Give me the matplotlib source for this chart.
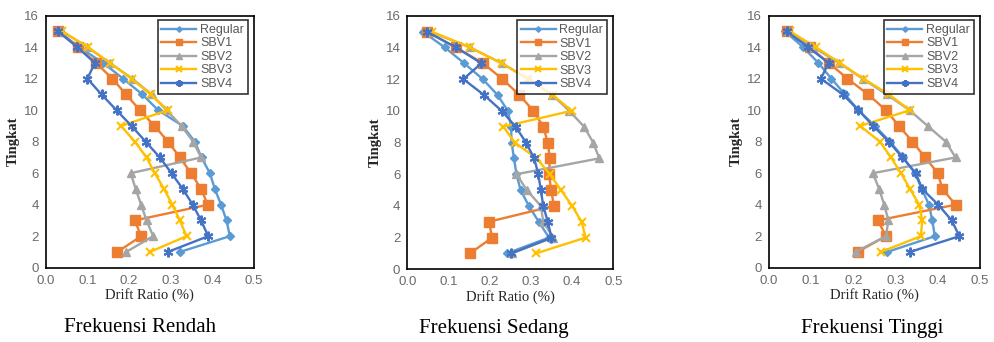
import matplotlib
matplotlib.use("Agg")
import matplotlib.pyplot as plt

floors = list(range(1, 16))
series_names = ["Regular", "SBV1", "SBV2", "SBV3", "SBV4"]

# Frekuensi Rendah
rendah_regular = [0.322, 0.442, 0.434, 0.421, 0.406, 0.394, 0.374, 0.358, 0.329, 0.270, 0.232, 0.186, 0.138, 0.080, 0.032]
rendah_sbv1 = [0.172, 0.229, 0.214, 0.389, 0.373, 0.349, 0.322, 0.294, 0.261, 0.226, 0.193, 0.160, 0.121, 0.077, 0.030]
rendah_sbv2 = [0.193, 0.258, 0.242, 0.229, 0.216, 0.204, 0.373, 0.354, 0.326, 0.290, 0.254, 0.208, 0.154, 0.100, 0.040]
rendah_sbv3 = [0.250, 0.338, 0.322, 0.304, 0.284, 0.262, 0.242, 0.214, 0.181, 0.293, 0.252, 0.206, 0.154, 0.102, 0.040]
rendah_sbv4 = [0.293, 0.390, 0.373, 0.353, 0.329, 0.302, 0.274, 0.240, 0.206, 0.170, 0.134, 0.100, 0.118, 0.076, 0.030]

# Frekuensi Sedang
sedang_regular = [0.241, 0.344, 0.319, 0.295, 0.275, 0.265, 0.259, 0.253, 0.252, 0.244, 0.219, 0.183, 0.138, 0.091, 0.037]
sedang_sbv1 = [0.152, 0.206, 0.198, 0.356, 0.349, 0.344, 0.346, 0.341, 0.330, 0.306, 0.272, 0.231, 0.184, 0.118, 0.047]
sedang_sbv2 = [0.253, 0.354, 0.330, 0.324, 0.290, 0.265, 0.466, 0.451, 0.429, 0.393, 0.352, 0.295, 0.229, 0.152, 0.055]
sedang_sbv3 = [0.312, 0.433, 0.423, 0.400, 0.373, 0.346, 0.314, 0.261, 0.233, 0.399, 0.353, 0.294, 0.229, 0.152, 0.059]
sedang_sbv4 = [0.252, 0.350, 0.341, 0.330, 0.324, 0.318, 0.308, 0.288, 0.263, 0.229, 0.186, 0.136, 0.180, 0.118, 0.047]

# Frekuensi Tinggi
tinggi_regular = [0.280, 0.393, 0.387, 0.379, 0.362, 0.346, 0.318, 0.287, 0.251, 0.212, 0.180, 0.148, 0.117, 0.081, 0.038]
tinggi_sbv1 = [0.210, 0.277, 0.258, 0.442, 0.411, 0.400, 0.370, 0.340, 0.308, 0.277, 0.235, 0.186, 0.142, 0.096, 0.043]
tinggi_sbv2 = [0.205, 0.277, 0.283, 0.273, 0.261, 0.246, 0.442, 0.419, 0.376, 0.333, 0.279, 0.222, 0.166, 0.105, 0.046]
tinggi_sbv3 = [0.265, 0.360, 0.363, 0.356, 0.334, 0.313, 0.289, 0.263, 0.216, 0.334, 0.284, 0.224, 0.168, 0.111, 0.050]
tinggi_sbv4 = [0.334, 0.451, 0.433, 0.401, 0.363, 0.348, 0.316, 0.284, 0.247, 0.212, 0.175, 0.123, 0.141, 0.093, 0.042]

panel_titles = ["Frekuensi Rendah", "Frekuensi Sedang", "Frekuensi Tinggi"]
panels = [
    [rendah_regular, rendah_sbv1, rendah_sbv2, rendah_sbv3, rendah_sbv4],
    [sedang_regular, sedang_sbv1, sedang_sbv2, sedang_sbv3, sedang_sbv4],
    [tinggi_regular, tinggi_sbv1, tinggi_sbv2, tinggi_sbv3, tinggi_sbv4],
]
x_ticks = [0.0, 0.1, 0.2, 0.3, 0.4, 0.5]
x_ticklabels = ["0.0", "0.1", "0.2", "0.3", "0.4", "0.5"]
y_ticks = [0, 2, 4, 6, 8, 10, 12, 14, 16]

colors = ["#5B9BD5", "#ED7D31", "#A5A5A5", "#FFC000", "#4472C4"]
markers = ["D", "s", "^", "x", (6, 2, 0)]
msizes = [4, 7, 6, 6, 7]

W, H = 995, 342
fig = plt.figure(figsize=(W / 100, H / 100), dpi=100)

# axes pixel boxes: (x0, x1, ytop, ybottom)
boxes = [(45.7, 254.0, 15.7, 267.7), (407.3, 613.3, 15.7, 269.3), (769.0, 980.0, 15.7, 267.7)]
caption_x = [140, 494, 872]

for i, (box, data) in enumerate(zip(boxes, panels)):
    x0, x1, yt, yb = box
    ax = fig.add_axes([x0 / W, 1 - yb / H, (x1 - x0) / W, (yb - yt) / H])
    for name, vals, c, m, ms in zip(series_names, data, colors, markers, msizes):
        mew = 1.5 if m in ("x", (6, 2, 0)) else 1.0
        ax.plot(vals, floors, color=c, lw=1.7, marker=m, ms=ms, mec=c, mfc=c,
                mew=mew, label=name)
    ax.set_xlim(0, 0.5)
    ax.set_ylim(0, 16)
    ax.set_xticks(x_ticks)
    ax.set_xticklabels(x_ticklabels)
    ax.set_yticks(y_ticks)
    ax.tick_params(length=0, labelsize=9.5, labelcolor="#6a6a6a", pad=5)
    for lab in ax.get_xticklabels() + ax.get_yticklabels():
        lab.set_family("Liberation Sans")
    for s in ax.spines.values():
        s.set_color("black")
        s.set_linewidth(1.2)
    ax.set_xlabel("Drift Ratio (%)", family="Liberation Serif", fontsize=10.5,
                  color="#262626", labelpad=1)
    ax.set_ylabel("Tingkat", family="Liberation Serif", fontsize=10.5,
                  color="#262626", fontweight="bold", labelpad=3)
    leg = ax.legend(loc="upper right", bbox_to_anchor=(0.97, 0.982), frameon=True,
                    fancybox=False, edgecolor="black",
                    prop={"family": "Liberation Sans", "size": 9},
                    handlelength=2.8, handletextpad=0.3, labelspacing=0.12,
                    borderpad=0.3, borderaxespad=0.0, markerscale=0.7)
    leg.get_frame().set_linewidth(1.2)
    for t in leg.get_texts():
        t.set_color("#595959")
    fig.text(caption_x[i] / W, 1 - 328 / H, panel_titles[i], ha="center",
             va="center", family="Liberation Serif", fontsize=15)

fig.savefig("out.png", dpi=100)
